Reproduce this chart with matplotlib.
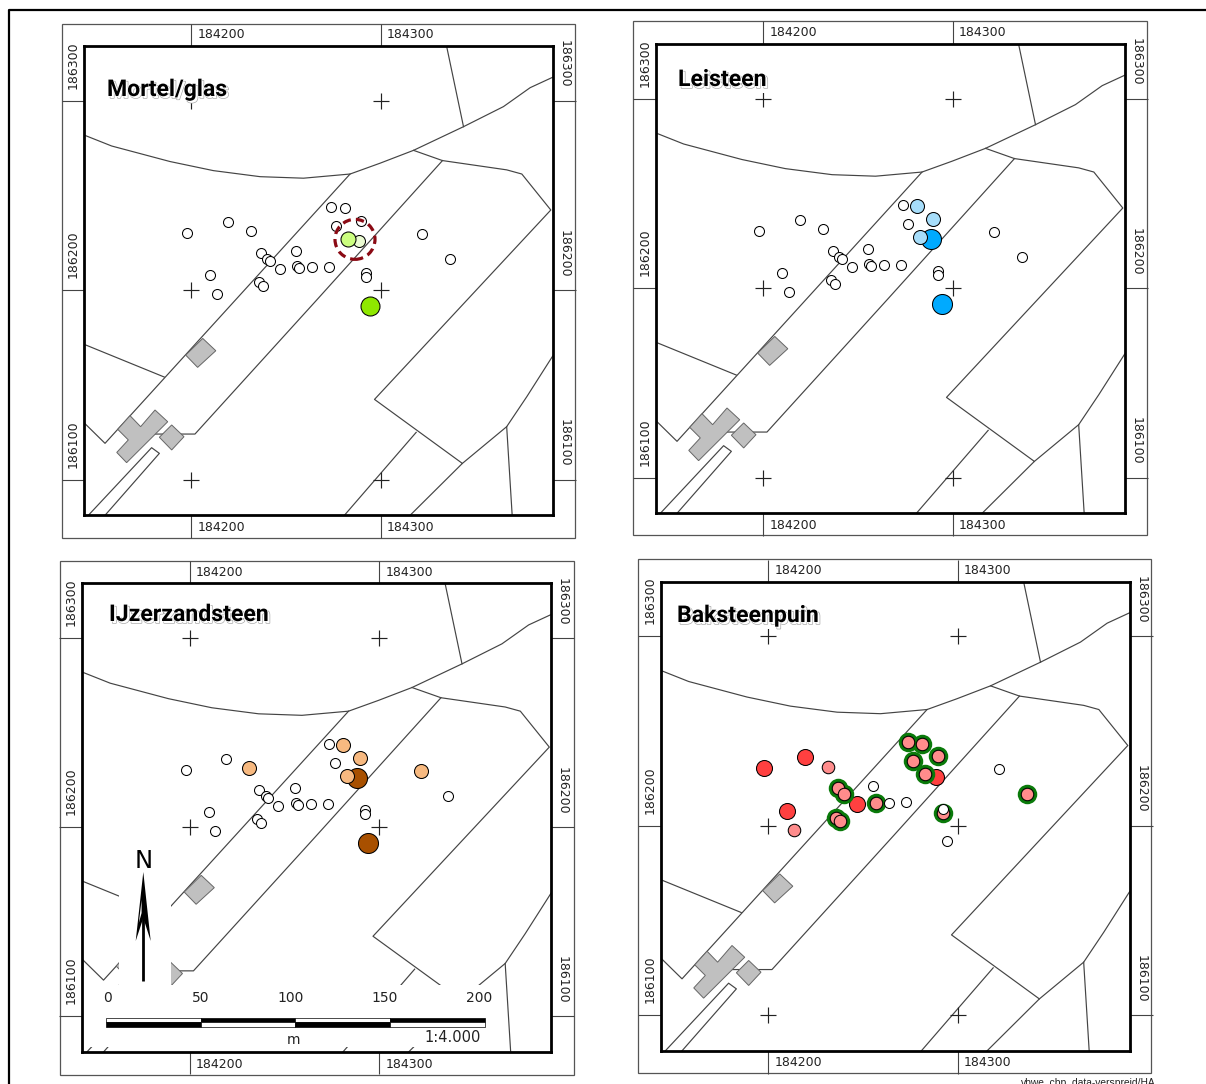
import matplotlib
matplotlib.use('Agg')
import matplotlib.pyplot as plt
import matplotlib.patheffects as pe
from matplotlib.patches import Rectangle, Polygon

W, H = 1206, 1084
DPI = 100
PX = 72.0 / DPI

E0 = 184200
N0 = 186200
tick_e = [184200, 184300]
tick_n = [186100, 186200, 186300]
xlim = (E0 - 56.7, E0 + 190.8)
ylim = (N0 - 118.8, N0 + 129.0)

# base map, metres east/north of E0, N0
road_n = [(-56.7, 82.0), (-42.1, 76.2), (-11.3, 68.0), (11.6, 63.2), (36.3, 60.0), (59.2, 59.2), (83.8, 61.4),
          (99.6, 67.1), (117.3, 73.9), (143.7, 86.4), (164.8, 97.0), (178.9, 107.0), (190.8, 112.5)]
top_line = [(134.9, 128.3), (143.7, 86.4)]
strip_l = [(83.8, 61.4), (-45.6, -80.8), (-56.7, -69.9)]
strip_r = [(132.6, 68.5), (66.2, -5.1), (1.9, -75.9), (-19.2, -75.9)]
field_a = [(117.3, 73.9), (132.6, 68.5), (166.5, 63.6), (174.5, 61.4), (189.8, 42.4), (96.7, -57.6),
           (143.1, -91.4), (115.5, -118.8)]
field_b = [(118.7, -75.0), (80.8, -118.8)]
field_c = [(143.1, -91.4), (166.5, -72.0), (177.1, -56.2), (190.8, -34.7)]
field_d = [(166.5, -72.0), (169.4, -118.8)]
field_e = [(-56.7, -28.5), (-14.3, -45.8)]
lane = [(-54.4, -118.8), (-21.0, -83.1), (-16.9, -86.1), (-45.6, -118.8)]
map_lines = [road_n, top_line, strip_l, strip_r, field_a, field_b, field_c, field_d, field_e, lane]

shed_a = [(6.0, -25.4), (12.9, -31.9), (3.3, -40.7), (-3.0, -34.2)]
shed_b = [(-10.4, -71.1), (-3.9, -77.3), (-10.4, -84.3), (-16.9, -77.6)]
house = [(-32.4, -66.2), (-26.8, -72.0), (-19.2, -63.2), (-12.5, -69.4), (-34.2, -91.0),
         (-39.4, -85.6), (-33.3, -79.0), (-38.9, -73.4)]
buildings = [shed_a, shed_b, house]

# find spots
site_e = [-2.3, 19.2, 31.3, 10.0, 13.4, 36.6, 40.1, 41.5, 46.7, 35.7, 37.7, 55.5, 56.0, 56.9, 63.9, 72.9,
          73.6, 81.0, 76.4, 89.8, 121.8, 136.4, 92.3, 92.3, 94.3, 82.9, 88.4]
site_n = [30.5, 36.3, 31.3, 7.9, -2.1, 19.9, 16.7, 15.3, 11.3, 4.2, 2.5, 21.0, 12.7, 12.0, 12.3, 12.5,
          44.2, 43.3, 34.2, 36.8, 29.9, 16.7, 9.0, 7.0, -8.1, 27.1, 26.0]

# site index groups per panel, in drawing order: (indices, fill, diameter px, ring)
OPEN = ('white', 10, False)
mortel_groups = [(list(range(24)), OPEN),
                 ([24], ('#8fe800', 19, False)),
                 ([26], ('#eafbd2', 12, False)),
                 ([25], ('#ccff80', 15, False))]
lei_open = [0, 1, 2, 3, 4, 5, 6, 7, 8, 9, 10, 11, 12, 13, 14, 15, 16, 18, 20, 21, 22, 23]
leisteen_groups = [(lei_open, OPEN),
                   ([24, 26], ('#00aaff', 20, False)),
                   ([17, 19, 25], ('#a6ddfa', 14, False))]
ijz_open = [0, 1, 3, 4, 5, 6, 7, 8, 9, 10, 11, 12, 13, 14, 15, 16, 18, 21, 22, 23]
ijzer_groups = [(ijz_open, OPEN),
                ([24, 26], ('#a85000', 20, False)),
                ([2, 17, 19, 20, 25], ('#f7b980', 14, False))]
bak_red = [0, 1, 3, 8, 26]
bak_pink = [2, 4]
bak_ring = [5, 6, 9, 10, 13, 16, 17, 18, 19, 25, 23, 21]
bak_open = [11, 14, 15, 20, 24, 22]
baksteen_groups = [(bak_red, ('#ff4040', 16, False)),
                   (bak_pink, ('#ff8c8c', 12.5, False)),
                   (bak_ring, ('#ff8c8c', 12.5, True)),
                   (bak_open, OPEN)]

dashed_e = 86.4
dashed_n = 26.9

# pixel boxes (left, top, right, bottom)
panel_names = ['Mortel/glas', 'Leisteen', 'IJzerzandsteen', 'Baksteenpuin']
panel_groups = [mortel_groups, leisteen_groups, ijzer_groups, baksteen_groups]
inner_boxes = [(84, 46, 552.7, 515.3), (656, 44, 1124.7, 513.3), (82.5, 583.3, 551.2, 1052), (661, 581.5, 1129.7, 1050.8)]
outer_boxes = [(61.5, 23.5, 575, 537.7), (633, 21, 1147, 535), (59.5, 561, 574, 1075), (638, 559, 1151, 1073)]
title_pos = [(107, 96), (678, 86), (109, 621), (677, 622)]

scale_labels = [0, 50, 100, 150, 200]
scale_label_x = [108, 201, 291, 385, 479]

plt.rcParams['font.family'] = ['DejaVu Sans']
fig = plt.figure(figsize=(W / DPI, H / DPI), dpi=DPI)


def draw_panel(name, groups, inner, outer, tpos):
    l, t, r, b = inner
    ax = fig.add_axes([l / W, 1 - b / H, (r - l) / W, (b - t) / H], zorder=2)
    ax.set_xlim(xlim)
    ax.set_ylim(ylim)

    for pts in map_lines:
        ax.plot([E0 + p[0] for p in pts], [N0 + p[1] for p in pts], color='#444444', lw=0.85, zorder=1)
    for pts in buildings:
        ax.add_patch(Polygon([(E0 + p[0], N0 + p[1]) for p in pts], fc='#c0c0c0', ec='#666666', lw=0.7, zorder=2))

    for e in tick_e:
        for n in tick_n:
            ax.plot([e], [n], marker='+', ms=16 * PX, mew=0.85, color='#222222', zorder=3)

    for idx, (fill, diam, ring) in groups:
        xs = [E0 + site_e[i] for i in idx]
        ys = [N0 + site_n[i] for i in idx]
        if ring:
            ax.scatter(xs, ys, s=(19.5 * PX) ** 2, c='#0a7a0a', lw=0, zorder=4)
        ax.scatter(xs, ys, s=(diam * PX) ** 2, c=fill, edgecolors='black', lw=0.75, zorder=4)

    if name == 'Mortel/glas':
        ax.scatter([E0 + dashed_e], [N0 + dashed_n], s=(40 * PX) ** 2, facecolors='none', edgecolors='#8b0a14',
                   lw=2.3, linestyle=(0, (2.6, 1.6)), zorder=5)

    # real axis ticks reach out to the outer frame
    ax.set_xticks(tick_e)
    ax.set_yticks(tick_n)
    ax.set_xticklabels([])
    ax.set_yticklabels([])
    ax.tick_params(axis='x', length=(t - outer[1]) * PX, width=0.8, color='#444444', top=True, bottom=True)
    ax.tick_params(axis='y', length=(l - outer[0]) * PX, width=0.8, color='#444444', left=True, right=True)
    for s in ax.spines.values():
        s.set_linewidth(2.0)

    xt = ax.get_xaxis_transform()
    yt = ax.get_yaxis_transform()
    for e in tick_e:
        ax.annotate(str(e), (e, 1), xycoords=xt, xytext=(6 * PX, 11 * PX), textcoords='offset points',
                    fontsize=9, ha='left', va='center', color='#222222')
        ax.annotate(str(e), (e, 0), xycoords=xt, xytext=(6 * PX, -12 * PX), textcoords='offset points',
                    fontsize=9, ha='left', va='center', color='#222222')
    for n in tick_n:
        ax.annotate(str(n), (0, n), xycoords=yt, xytext=(-11 * PX, 12 * PX), textcoords='offset points',
                    fontsize=9, rotation=90, ha='center', va='bottom', color='#222222')
        ax.annotate(str(n), (1, n), xycoords=yt, xytext=(11 * PX, 13 * PX), textcoords='offset points',
                    fontsize=9, rotation=270, ha='center', va='bottom', color='#222222')

    # title with offset shadow, white behind it hides the map
    fx, fy = tpos[0] / W, 1 - tpos[1] / H
    fig.text(fx + 2.0 / W, fy - 2.0 / H, name, fontsize=16.6, fontweight='bold', family='Roboto', color='white', zorder=20,
             bbox=dict(fc='white', ec='none', pad=0),
             path_effects=[pe.withStroke(linewidth=1.0, foreground='#aaaaaa')])
    fig.text(fx, fy, name, fontsize=16.6, fontweight='bold', family='Roboto', color='black', zorder=21,
             path_effects=[pe.withStroke(linewidth=0.8, foreground='white')])
    return ax


page = fig.add_axes([0, 0, 1, 1], zorder=1)
page.set_xlim(0, W)
page.set_ylim(H, 0)
page.axis('off')
page.plot([1206, 8.5, 8.5], [10, 10, 1084], color='black', lw=1.6)
for o in outer_boxes:
    page.add_patch(Rectangle((o[0], o[1]), o[2] - o[0], o[3] - o[1], fc='none', ec='#555555', lw=0.9))
page.text(1020.5, 1078.5, 'vbwe_cbp_data-verspreid/HA', fontsize=7.4, family='Liberation Sans', va='top', ha='left',
          color='#222222')

for i in range(4):
    draw_panel(panel_names[i], panel_groups[i], inner_boxes[i], outer_boxes[i], title_pos[i])

# north arrow and scale bar sit on top of panel 3
top = fig.add_axes([0, 0, 1, 1], zorder=10)
top.set_xlim(0, W)
top.set_ylim(H, 0)
top.axis('off')
top.patch.set_alpha(0)
top.add_patch(Rectangle((119, 848), 52, 137, fc='white', ec='none'))
top.add_patch(Rectangle((84, 985), 413, 62, fc='white', ec='none'))
top.text(143.3, 861.5, 'N', fontsize=17.5, ha='center', va='center')
top.add_patch(Polygon([(143.3, 872), (150.7, 941), (143.3, 918), (135.7, 941)], fc='black', ec='none'))
top.add_patch(Polygon([(141.6, 900), (138.8, 923), (141.6, 913)], fc='white', ec='none'))
top.plot([143.3, 143.3], [905, 981], color='black', lw=2.0, solid_capstyle='butt')

px_per_m = (inner_boxes[2][2] - inner_boxes[2][0]) / (xlim[1] - xlim[0])
bar_left = 106
for k in range(len(scale_labels) - 1):
    x0 = bar_left + scale_labels[k] * px_per_m
    seg = (scale_labels[k + 1] - scale_labels[k]) * px_per_m
    upper, lower = ('white', 'black') if k % 2 == 0 else ('black', 'white')
    top.add_patch(Rectangle((x0, 1017.5), seg, 4.7, fc=upper, ec='black', lw=0.5))
    top.add_patch(Rectangle((x0, 1022.2), seg, 4.7, fc=lower, ec='black', lw=0.5))
for v, x in zip(scale_labels, scale_label_x):
    top.text(x, 998, str(v), fontsize=10, ha='center', va='center', color='#222222')
top.text(294, 1040, 'm', fontsize=10, ha='center', va='center', color='#222222')
top.text(481, 1037, '1:4.000', fontsize=10.5, ha='right', va='center', color='#222222')

fig.savefig('out.png', dpi=DPI)
